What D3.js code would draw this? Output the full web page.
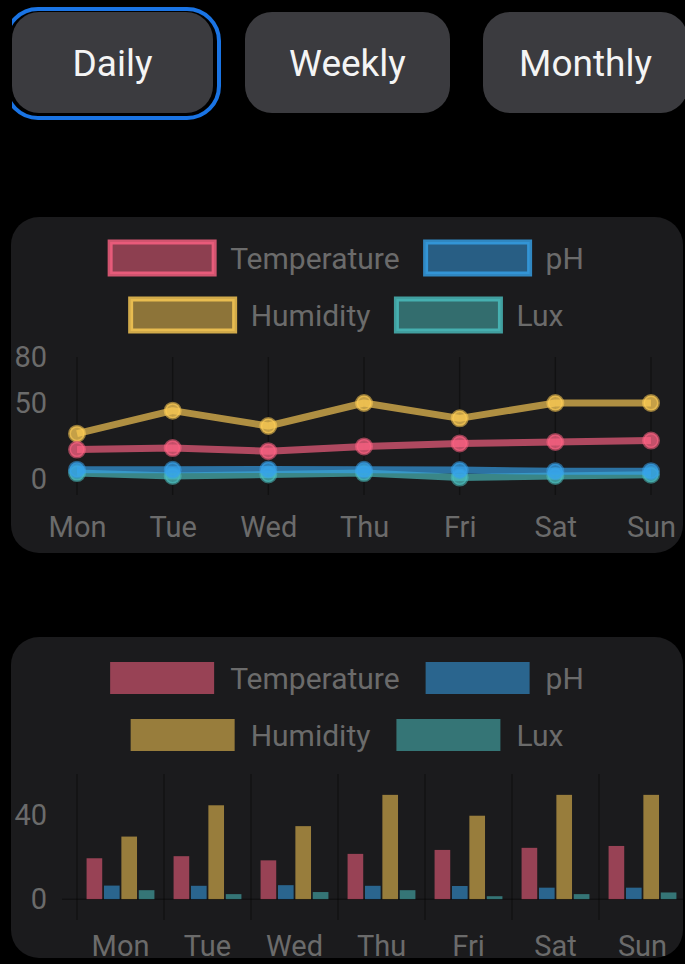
<!DOCTYPE html>
<html>
<head>
<meta charset="utf-8">
<script src="https://d3js.org/d3.v7.min.js"></script>
<style>
  html, body { margin: 0; padding: 0; background: #000; }
  svg { display: block; }
  text { font-family: Roboto, "Noto Sans", sans-serif; }
</style>
</head>
<body>
<div id="vis"></div>
<script>
var days = ["Mon", "Tue", "Wed", "Thu", "Fri", "Sat", "Sun"];
var temperature = [19.6, 20.6, 18.6, 21.7, 23.6, 24.6, 25.5];
var ph = [6.5, 6.4, 6.7, 6.4, 6.3, 5.5, 5.5];
var humidity = [30, 45, 35, 50, 40, 50, 50];
var lux = [4.3, 2.4, 3.4, 4.3, 1.4, 2.4, 3.2];
var seriesNames = ["Temperature", "pH", "Humidity", "Lux"];
var seriesColors = ["255,99,132", "54,162,235", "255,206,86", "75,192,192"];
var periods = ["Daily", "Weekly", "Monthly"];
var lineTicks = [0, 50, 80];
var barTicks = [0, 40];

var series = [temperature, ph, humidity, lux];
var w = 685, h = 964;
var textColor = "#6b6b6b";
var gridColor = "rgba(0,0,0,0.35)";

var svg = d3.select("#vis").append("svg")
    .attr("width", w)
    .attr("height", h);

svg.append("rect").attr("width", w).attr("height", h).attr("fill", "#000");

function rgba(c, a) { return "rgba(" + c + "," + a + ")"; }

// period buttons
var btnBox = [[12, 201], [245, 205], [483, 205]];
svg.append("clipPath").attr("id", "btnclip")
  .append("rect").attr("x", 12).attr("y", 6).attr("width", w).attr("height", 130);
var btns = svg.append("g").attr("clip-path", "url(#btnclip)");
btns.append("rect")
    .attr("x", 6).attr("y", 9).attr("width", 213).attr("height", 109)
    .attr("rx", 32)
    .attr("fill", "none")
    .attr("stroke", "#1a74e4")
    .attr("stroke-width", 4);
periods.forEach(function(p, i) {
  btns.append("rect")
    .attr("x", btnBox[i][0]).attr("y", 12)
    .attr("width", btnBox[i][1]).attr("height", 101)
    .attr("rx", 27)
    .attr("fill", "#3b3b3f");
  btns.append("text")
    .attr("x", btnBox[i][0] + btnBox[i][1] / 2)
    .attr("y", 63)
    .attr("text-anchor", "middle")
    .attr("dominant-baseline", "central")
    .attr("font-size", 37)
    .attr("fill", "#f4f4f4")
    .text(p);
});

// cards
svg.append("rect").attr("x", 11).attr("y", 217).attr("width", 672).attr("height", 336)
  .attr("rx", 28).attr("fill", "#1b1b1d");
svg.append("rect").attr("x", 11).attr("y", 637).attr("width", 672).attr("height", 321)
  .attr("rx", 28).attr("fill", "#1b1b1d");

function drawLegend(top, bordered) {
  var g = svg.append("g");
  var boxW = 104, boxH = 32, gap = 16, itemGap = 26, maxW = 560, rowH = 57;
  var items = seriesNames.map(function(name, i) {
    var t = g.append("text").attr("font-size", 30).attr("fill", textColor)
      .attr("dominant-baseline", "central").text(name);
    return { name: name, i: i, text: t, width: boxW + gap + t.node().getComputedTextLength() };
  });
  var rows = [[]], rowW = [0];
  items.forEach(function(it) {
    var r = rows.length - 1;
    var add = (rows[r].length ? itemGap : 0) + it.width;
    if (rows[r].length && rowW[r] + add > maxW) { rows.push([]); rowW.push(0); r++; add = it.width; }
    rows[r].push(it);
    rowW[r] += add;
  });
  rows.forEach(function(row, r) {
    var x = 347 - rowW[r] / 2;
    var cy = top + r * rowH;
    row.forEach(function(it) {
      var c = seriesColors[it.i];
      var box = g.append("rect")
        .attr("x", x).attr("y", cy - boxH / 2)
        .attr("width", boxW).attr("height", boxH)
        .attr("fill", rgba(c, bordered ? 0.5 : 0.55));
      if (bordered) box.attr("stroke", rgba(c, 0.8)).attr("stroke-width", 5);
      it.text.attr("x", x + boxW + gap).attr("y", cy);
      x += it.width + itemGap;
    });
  });
}

// line chart
drawLegend(258, true);

var lx = d3.scalePoint().domain(days).range([77, 651]);
var ly = d3.scaleLinear().domain([-10, 80]).range([495, 357]);

var lg = svg.append("g");
lg.selectAll("line.grid").data(days).enter().append("line")
  .attr("x1", function(d) { return lx(d); }).attr("x2", function(d) { return lx(d); })
  .attr("y1", 357).attr("y2", 495)
  .attr("stroke", gridColor).attr("stroke-width", 1.5);

var yAxisL = svg.append("g").attr("transform", "translate(47,0)")
  .call(d3.axisLeft(ly).tickValues(lineTicks).tickSize(0).tickPadding(0));
var xAxisL = svg.append("g").attr("transform", "translate(0,516)")
  .call(d3.axisBottom(lx).tickSize(0).tickPadding(0));

var line = d3.line()
  .x(function(d, i) { return lx(days[i]); })
  .y(function(d) { return ly(d); });

d3.range(series.length).reverse().forEach(function(s) {
  var c = seriesColors[s];
  lg.append("path")
    .datum(series[s])
    .attr("d", line)
    .attr("fill", "none")
    .attr("stroke", rgba(c, 0.65))
    .attr("stroke-width", 7)
    .attr("stroke-linejoin", "round");
  lg.selectAll("circle.s" + s).data(series[s]).enter().append("circle")
    .attr("class", "s" + s)
    .attr("cx", function(d, i) { return lx(days[i]); })
    .attr("cy", function(d) { return ly(d); })
    .attr("r", 7.5)
    .attr("fill", rgba(c, 0.75))
    .attr("stroke", rgba(c, 0.55))
    .attr("stroke-width", 3);
});

// bar chart
drawLegend(678, false);

var bx = d3.scaleBand().domain(days).range([77, 686]).paddingInner(0.2).paddingOuter(0.1);
var bx1 = d3.scaleBand().domain(seriesNames).range([0, bx.bandwidth()]).paddingInner(0.1).paddingOuter(0.05);
var by = d3.scaleLinear().domain([-10, 60]).range([920, 774]);

var bg = svg.append("g");
bg.selectAll("line.grid").data(d3.range(days.length + 1)).enter().append("line")
  .attr("x1", function(i) { return 77 + i * bx.step(); })
  .attr("x2", function(i) { return 77 + i * bx.step(); })
  .attr("y1", 774).attr("y2", 920)
  .attr("stroke", gridColor).attr("stroke-width", 1.5);
bg.append("line")
  .attr("x1", 62).attr("x2", 686)
  .attr("y1", by(0)).attr("y2", by(0))
  .attr("stroke", gridColor).attr("stroke-width", 1.5);

var groups = bg.selectAll("g.day").data(days).enter().append("g")
  .attr("transform", function(d) { return "translate(" + bx(d) + ",0)"; });
groups.selectAll("rect").data(function(d, i) {
    return series.map(function(sv, s) { return { s: s, v: sv[i] }; });
  }).enter().append("rect")
  .attr("x", function(d) { return bx1(seriesNames[d.s]); })
  .attr("width", bx1.bandwidth())
  .attr("y", function(d) { return by(d.v); })
  .attr("height", function(d) { return by(0) - by(d.v); })
  .attr("fill", function(d) { return rgba(seriesColors[d.s], 0.55); });

var yAxisB = svg.append("g").attr("transform", "translate(47,0)")
  .call(d3.axisLeft(by).tickValues(barTicks).tickSize(0).tickPadding(0));
var xAxisB = svg.append("g").attr("transform", "translate(0,935)")
  .call(d3.axisBottom(bx).tickSize(0).tickPadding(0));

[yAxisL, xAxisL, yAxisB, xAxisB].forEach(function(a) {
  a.select(".domain").remove();
  a.selectAll("text")
    .attr("font-size", 29)
    .attr("font-family", "Roboto, sans-serif")
    .attr("fill", textColor);
});
</script>
</body>
</html>
